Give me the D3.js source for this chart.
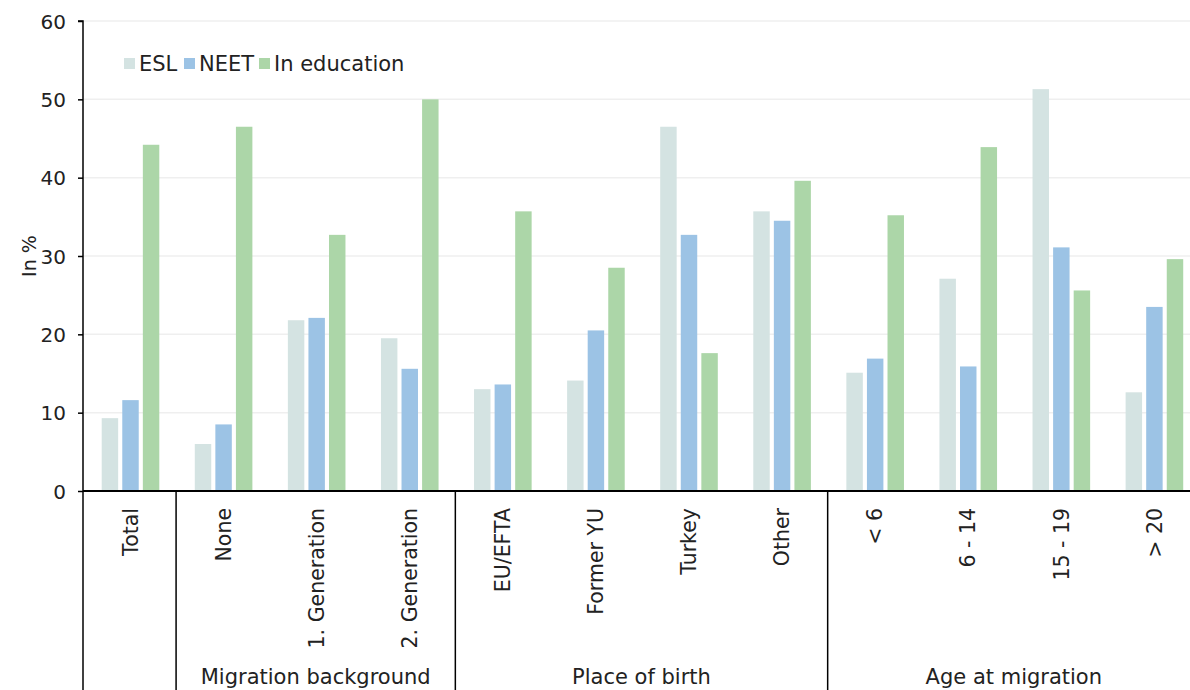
<!DOCTYPE html>
<html>
<head>
<meta charset="utf-8">
<script src="https://cdn.jsdelivr.net/npm/d3@7"></script>
<style>
  html, body { margin: 0; padding: 0; background: #fff; }
  svg { display: block; font-family: "DejaVu Sans", sans-serif; }
</style>
</head>
<body>
<svg id="chart" width="1190" height="690"></svg>
<script>
// Categories along the x axis and the group each belongs to
const categories = ["Total", "None", "1. Generation", "2. Generation",
  "EU/EFTA", "Former YU", "Turkey", "Other",
  "< 6", "6 - 14", "15 - 19", "> 20"];
const groups = [
  { label: "", start: 0, end: 1 },
  { label: "Migration background", start: 1, end: 4 },
  { label: "Place of birth", start: 4, end: 8 },
  { label: "Age at migration", start: 8, end: 12 }
];
const seriesNames = ["ESL", "NEET", "In education"];
const eslValues   = [9.3, 6.0, 21.8, 19.5, 13.0, 14.1, 46.5, 35.7, 15.1, 27.1, 51.3, 12.6];
const neetValues  = [11.6, 8.5, 22.1, 15.6, 13.6, 20.5, 32.7, 34.5, 16.9, 15.9, 31.1, 23.5];
const eduValues   = [44.2, 46.5, 32.7, 50.0, 35.7, 28.5, 17.6, 39.6, 35.2, 43.9, 25.6, 29.6];
const yTicks = [0, 10, 20, 30, 40, 50, 60];
const colors = ["#d4e3e2", "#9cc3e5", "#acd6a8"];

const seriesValues = [eslValues, neetValues, eduValues];

const svg = d3.select("#chart");
const plotLeft = 83, plotRight = 1200, plotTop = 21, plotBottom = 491, axisBottom = 690;

const x = d3.scaleBand().domain(d3.range(categories.length)).range([plotLeft, plotRight]).padding(0);
const xs = d3.scaleBand().domain(d3.range(seriesNames.length)).range([18.7, 76.3]).paddingInner(0.2);
const y = d3.scaleLinear().domain([0, 60]).range([plotBottom, plotTop]);

// Horizontal gridlines
svg.append("g").selectAll("line").data(yTicks.filter(d => d > 0)).join("line")
  .attr("x1", plotLeft).attr("x2", 1190)
  .attr("y1", d => y(d)).attr("y2", d => y(d))
  .attr("stroke", "#efefef").attr("stroke-width", 1.5);

// Bars
const barG = svg.append("g");
seriesValues.forEach((vals, s) => {
  barG.append("g").selectAll("rect").data(vals).join("rect")
    .attr("x", (d, i) => x(i) + xs(s))
    .attr("width", xs.bandwidth())
    .attr("y", d => y(d))
    .attr("height", d => y(0) - y(d))
    .attr("fill", colors[s]);
});

// Y axis
const yAxis = d3.axisLeft(y).tickValues(yTicks).tickSize(5).tickPadding(12).tickFormat(d3.format("d"));
const ya = svg.append("g").attr("transform", `translate(${plotLeft},0)`).call(yAxis);
ya.select(".domain").attr("stroke", "#000").attr("stroke-width", 1.5).attr("d", `M-5,${plotTop}H0V${plotBottom}`);
ya.selectAll(".tick line").attr("stroke", "#000").attr("stroke-width", 1.5);
ya.selectAll(".tick text").attr("font-size", 20).attr("fill", "#222")
  .attr("font-family", "DejaVu Sans, sans-serif").attr("dy", "0.35em");

// Y axis title
svg.append("text")
  .attr("transform", `translate(36,${(plotTop + plotBottom) / 2}) rotate(-90)`)
  .attr("text-anchor", "middle").attr("font-size", 19).attr("fill", "#222")
  .text("In %");

// Baseline
svg.append("line").attr("x1", plotLeft).attr("x2", 1190).attr("y1", plotBottom).attr("y2", plotBottom)
  .attr("stroke", "#000").attr("stroke-width", 2);

// Group separators below the baseline
const sepIdx = [0, 1, 4, 8];
svg.append("g").selectAll("line").data(sepIdx).join("line")
  .attr("x1", d => x(d)).attr("x2", d => x(d))
  .attr("y1", plotBottom).attr("y2", axisBottom)
  .attr("stroke", "#000").attr("stroke-width", 1.5);

// Category labels (rotated)
svg.append("g").selectAll("text").data(categories).join("text")
  .attr("transform", (d, i) => `translate(${x(i) + x.bandwidth() / 2 + 1},${plotBottom + 17}) rotate(-90)`)
  .attr("text-anchor", "end").attr("dy", "0.35em")
  .attr("font-size", 20.5).attr("fill", "#222")
  .text(d => d);

// Group labels
svg.append("g").selectAll("text").data(groups.filter(g => g.label)).join("text")
  .attr("x", g => (x(g.start) + Math.min(x(g.end - 1) + x.bandwidth(), plotRight)) / 2)
  .attr("y", 684)
  .attr("text-anchor", "middle").attr("font-size", 21).attr("fill", "#222")
  .text(g => g.label);

// Legend
const legendX = [124, 184, 259];
const lg = svg.append("g").selectAll("g").data(seriesNames).join("g")
  .attr("transform", (d, i) => `translate(${legendX[i]},58)`);
lg.append("rect").attr("width", 11).attr("height", 11).attr("fill", (d, i) => colors[i]);
lg.append("text").attr("x", 15).attr("y", 5.5).attr("dy", "0.36em")
  .attr("font-size", 21).attr("fill", "#222").text(d => d);
</script>
</body>
</html>
